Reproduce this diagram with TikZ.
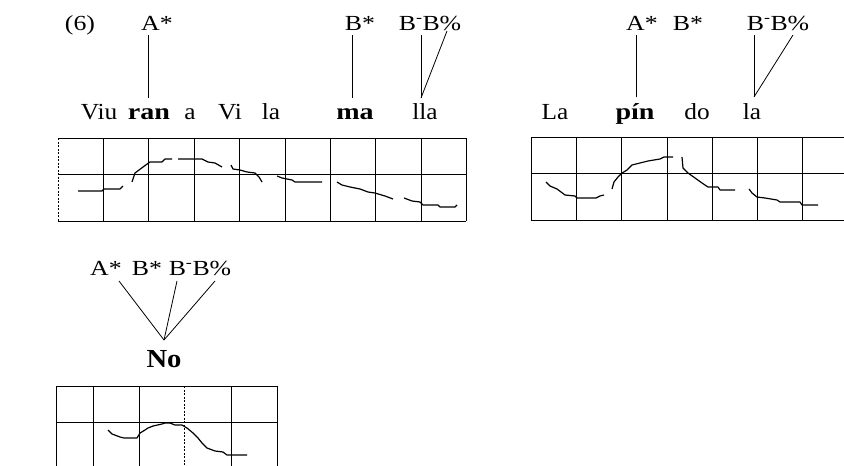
\documentclass[tikz,border=0pt]{standalone}
\usepackage{fontspec}
\setmainfont{Liberation Serif}
\newfontfamily\labfont[FakeStretch=1.2]{Liberation Serif}
\newfontfamily\sylfont[FakeStretch=1.1]{Liberation Serif}
\newfontfamily\bsylfont[FakeStretch=1.22]{Liberation Serif}
\begin{document}
\begin{tikzpicture}[x=1pt,y=-1pt,
  lab/.style={anchor=base, inner sep=0pt, font=\fontsize{21.5}{26}\labfont},
  syl/.style={anchor=base, inner sep=0pt, font=\fontsize{23}{27}\sylfont},
  bsyl/.style={anchor=base, inner sep=0pt, font=\fontsize{23}{27}\bsylfont\bfseries},
  bigb/.style={anchor=base, inner sep=0pt, font=\fontsize{26}{31}\sylfont\bfseries},
  gridline/.style={line width=0.9pt},
  faint/.style={line width=0.7pt, dash pattern=on 2pt off 1.5pt},
  contour/.style={line width=1.2pt, line join=round},
  assoc/.style={line width=0.8pt}]
\useasboundingbox (0,0) rectangle (844,466);

% ---------- label (6)
\node[lab] (num) at (80,30) {(6)};

% ---------- panel 1: Viu ran a Vi la ma lla
\node[lab] (p1a) at (157,30) {A*};
\node[lab] (p1b) at (360,30) {B*};
\node[lab] (p1c) at (430,30) {B\textsuperscript{-}B\%};
\node[syl]  (w1) at (99,119) {Viu};
\node[bsyl] (w2) at (149,119) {ran};
\node[syl]  (w3) at (190,119) {a};
\node[syl]  (w4) at (230,119) {Vi};
\node[syl]  (w5) at (271,119) {la};
\node[bsyl] (w6) at (355,119) {ma};
\node[syl]  (w7) at (425,119) {lla};
\coordinate (p1at) at (148,35);  \coordinate (p1ab) at (148,98);
\coordinate (p1bt) at (352,35);  \coordinate (p1bb) at (352,98);
\coordinate (p1ct) at (421,35);  \coordinate (p1cb) at (421,98);
\coordinate (p1dt) at (447,31);
\draw[assoc] (p1at) -- (p1ab);
\draw[assoc] (p1bt) -- (p1bb);
\draw[assoc] (p1ct) -- (p1cb);
\draw[assoc] (p1dt) -- (p1cb);

% grid 1
\draw[gridline] (58,138) -- (466,138);
\draw[gridline] (58,174) -- (466,174);
\draw[gridline] (58,221) -- (466,221);
\draw[faint] (58,138) -- (58,221);
\foreach \x in {103,148,194,239,285,330,375,421,466}
  \draw[gridline] (\x,138) -- (\x,221);
% contour 1
\draw[contour] (78,191) -- (102,191) -- (104,189) -- (120,189) -- (123,186);
\draw[contour] (132,182) -- (135,173) -- (143,167) -- (150,162) -- (162,162) -- (165,159) -- (172,159);
\draw[contour] (178,159) -- (202,159) -- (208,162) -- (215,163) -- (222,167);
\draw[contour] (231,165) -- (233,169) -- (240,170) -- (247,172) -- (255,173) -- (259,177) -- (262,182);
\draw[contour] (277,176) -- (282,178) -- (292,180) -- (295,182) -- (322,182);
\draw[contour] (337,182) -- (342,185) -- (350,187) -- (360,189) -- (368,192) -- (375,193) -- (385,196) -- (393,199);
\draw[contour] (404,198) -- (412,201) -- (420,202) -- (423,205) -- (438,205) -- (440,207) -- (455,207) -- (457,205);

% ---------- panel 2: La pin do la
\node[lab] (p2a) at (642,30) {A*};
\node[lab] (p2b) at (688,30) {B*};
\node[lab] (p2c) at (778,30) {B\textsuperscript{-}B\%};
\node[syl]  (v1) at (555,119) {La};
\node[bsyl] (v2) at (635,119) {pín};
\node[syl]  (v3) at (697,119) {do};
\node[syl]  (v4) at (752,119) {la};
\coordinate (p2at) at (636,35);  \coordinate (p2ab) at (636,97);
\coordinate (p2ct) at (754,35);  \coordinate (p2cb) at (754,97);
\coordinate (p2dt) at (793,35);
\draw[assoc] (p2at) -- (p2ab);
\draw[assoc] (p2ct) -- (p2cb);
\draw[assoc] (p2dt) -- (p2cb);

% grid 2
\draw[gridline] (531,137) -- (844,137);
\draw[gridline] (531,173) -- (844,173);
\draw[gridline] (531,220) -- (844,220);
\foreach \x in {531,576,621,667,712,757,802}
  \draw[gridline] (\x,137) -- (\x,220);
% contour 2
\draw[contour] (546,182) -- (550,186) -- (557,189) -- (565,195) -- (575,196) -- (577,198) -- (596,198) -- (600,196) -- (604,195);
\draw[contour] (612,189) -- (614,182) -- (618,177) -- (622,173) -- (627,170) -- (632,165) -- (640,163) -- (648,161) -- (660,159) -- (664,157) -- (673,157);
\draw[contour] (682,157) -- (683,168) -- (688,173) -- (695,178) -- (702,183) -- (708,187) -- (718,187) -- (720,190) -- (735,190);
\draw[contour] (749,189) -- (752,193) -- (757,197) -- (765,198) -- (777,200) -- (780,202) -- (800,202) -- (802,205) -- (818,205);

% ---------- panel 3: No
\node[lab] (p3a) at (106,275) {A*};
\node[lab] (p3b) at (147,275) {B*};
\node[lab] (p3c) at (200,275) {B\textsuperscript{-}B\%};
\node[bigb] (no) at (164,367) {No};
\coordinate (p3at) at (119,281);
\coordinate (p3bt) at (177,281);
\coordinate (p3ct) at (215,281);
\coordinate (p3j) at (164,340);
\draw[assoc] (p3at) -- (p3j);
\draw[assoc] (p3bt) -- (p3j);
\draw[assoc] (p3ct) -- (p3j);

% grid 3
\draw[gridline] (56,386) -- (277,386);
\draw[gridline] (56,422) -- (277,422);
\foreach \x in {56,93,139,231,277}
  \draw[gridline] (\x,386) -- (\x,466);
\draw[faint] (184,386) -- (184,466);
% contour 3
\draw[contour] (108,430) -- (112,434) -- (120,437) -- (124,438) -- (137,438) -- (140,433) -- (145,430) -- (148,428) -- (153,426) -- (162,424) -- (165,423) -- (170,423) -- (175,425) -- (182,425) -- (187,428) -- (193,433) -- (198,438) -- (202,443) -- (207,448) -- (215,451) -- (223,452) -- (227,455) -- (247,455);
\end{tikzpicture}
\end{document}
